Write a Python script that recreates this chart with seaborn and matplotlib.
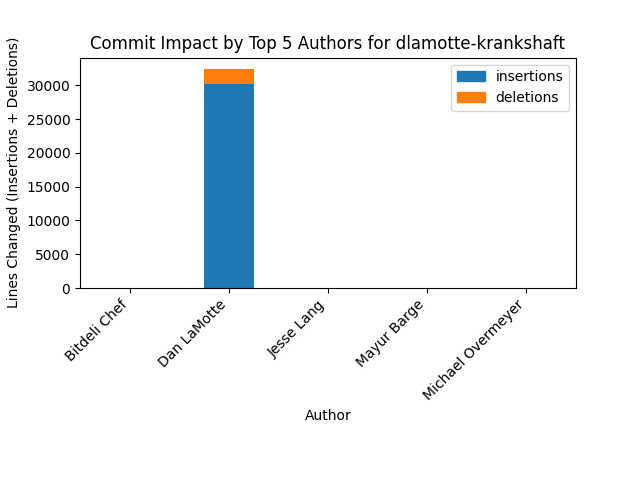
import numpy as np
import pandas as pd
import matplotlib
matplotlib.use("Agg")
import matplotlib.pyplot as plt
import seaborn as sns
from matplotlib.patches import Patch

authors = ["Bitdeli Chef", "Dan LaMotte", "Jesse Lang", "Mayur Barge", "Michael Overmeyer"]
insertions = [7, 30250, 2, 4, 3]
deletions = [0, 2250, 2, 1, 1]

df = pd.DataFrame({"author": authors, "insertions": insertions, "deletions": deletions})
df["total"] = df["insertions"] + df["deletions"]

fig, ax = plt.subplots(figsize=(6.4, 4.8), dpi=100)
sns.barplot(data=df, x="author", y="total", color="#ff7f0e", width=0.5, saturation=1, ax=ax)
sns.barplot(data=df, x="author", y="insertions", color="#1f77b4", width=0.5, saturation=1, ax=ax)

ax.set_title("Commit Impact by Top 5 Authors for dlamotte-krankshaft")
ax.set_xlabel("Author")
ax.set_ylabel("Lines Changed (Insertions + Deletions)")
ax.set_xticks(range(len(authors)))
ax.set_xticklabels(authors, rotation=45, ha="right")
ax.legend(handles=[Patch(color="#1f77b4", label="insertions"),
                   Patch(color="#ff7f0e", label="deletions")], loc="upper right")
plt.subplots_adjust(bottom=0.4)
plt.savefig("out.png")
